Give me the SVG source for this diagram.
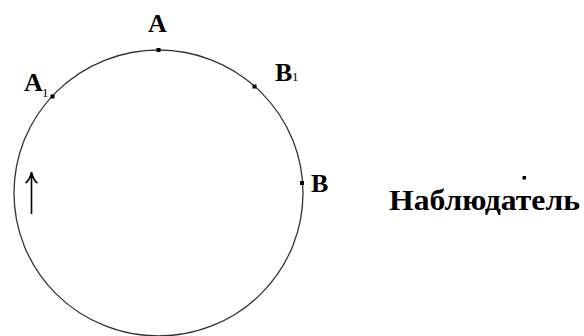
<svg xmlns="http://www.w3.org/2000/svg" width="584" height="336" viewBox="0 0 584 336">
<style>
text{font-family:'Liberation Serif','DejaVu Serif','Times New Roman',serif;fill:#000}
.lbl{font-weight:bold;font-size:26px}
.sub{font-size:13px}
.pt{fill:#000}
.ln{fill:none;stroke:#333;stroke-width:1.3}
.arr{fill:none;stroke:#000;stroke-width:1.6}
</style>
<rect width="584" height="336" fill="#fff"/>
<g id="circle">
<ellipse class="ln" cx="158.5" cy="193" rx="144.5" ry="143"/>
</g>
<g id="nodeA">
<rect class="pt" x="156.5" y="48" width="4" height="4"/>
<text class="lbl" x="148" y="32">A</text>
</g>
<g id="nodeA1">
<rect class="pt" x="50.5" y="94.5" width="4" height="4"/>
<text class="lbl" x="24" y="91">A</text><text class="sub" x="42" y="97">1</text>
</g>
<g id="nodeB1">
<rect class="pt" x="252.5" y="84.5" width="4" height="4"/>
<text class="lbl" x="275" y="81">B</text><text class="sub" x="292" y="81">1</text>
</g>
<g id="nodeB">
<rect class="pt" x="300" y="181" width="4" height="4"/>
<text class="lbl" x="311" y="192">B</text>
</g>
<g id="observer">
<rect class="pt" x="522.5" y="176" width="3.5" height="3.5"/>
<text class="lbl" x="389" y="210" style="font-size:29px" textLength="191" lengthAdjust="spacingAndGlyphs">Наблюдатель</text>
</g>
<g id="connectors">
<path class="arr" d="M31.5,214 V172 M31.5,172 Q30,180 25.5,183 M31.5,172 Q33,180 37.5,183"/>
</g>
</svg>
